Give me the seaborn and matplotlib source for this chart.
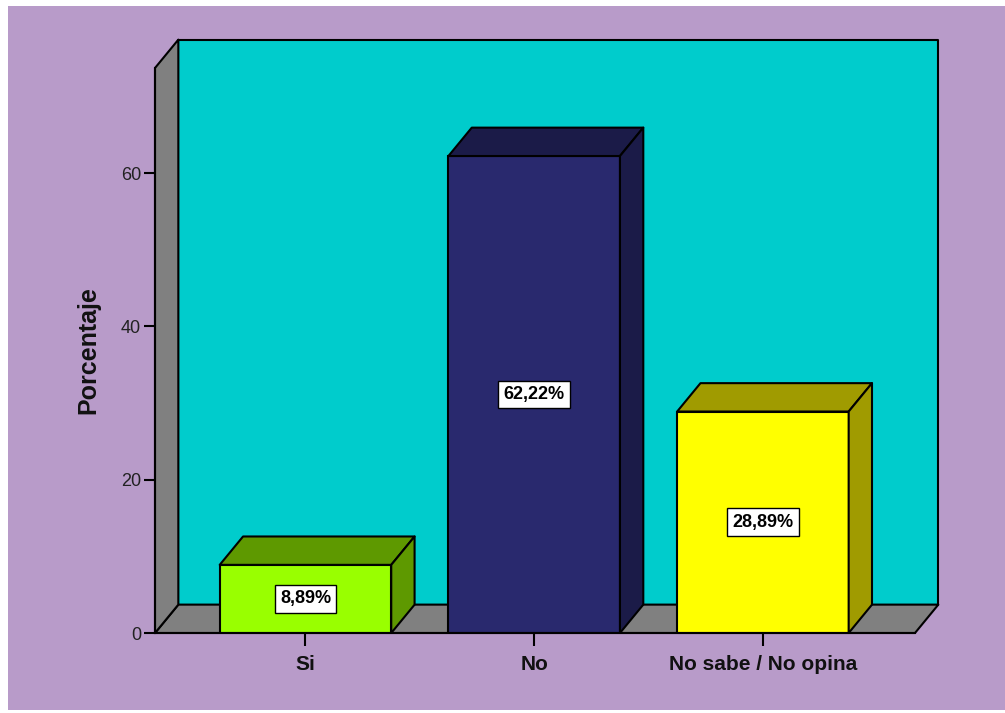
import matplotlib
matplotlib.use("Agg")
import matplotlib.pyplot as plt
from matplotlib.patches import Polygon, Rectangle
import seaborn as sns
import pandas as pd

categories = ["Si", "No", "No sabe / No opina"]
values = [8.89, 62.22, 28.89]
labels = ["8,89%", "62,22%", "28,89%"]
front_colors = ["#99FF00", "#29296E", "#FFFF00"]
dark_colors = ["#5E9900", "#1B1B48", "#A09B00"]
yticks = [0, 20, 40, 60]

sns.set_theme(style="white")
plt.rcParams["font.family"] = ["Liberation Sans", "DejaVu Sans"]

fig = plt.figure(figsize=(10.05, 7.13), dpi=100)
fig.patch.set_facecolor("white")
fig.add_artist(Rectangle((8 / 1005, 3 / 713), 1 - 8 / 1005, 704 / 713,
                         transform=fig.transFigure, facecolor="#B89BC9",
                         edgecolor="none", zorder=-10))

ax = fig.add_axes([155 / 1005, 80 / 713, 760 / 1005, 565 / 713])
ax.set_facecolor("none")

df = pd.DataFrame({"cat": categories, "val": values})
sns.barplot(data=df, x="cat", y="val", hue="cat", palette=front_colors,
            saturation=1, width=0.75, edgecolor="black", linewidth=1.5,
            legend=False, ax=ax, zorder=5)

x0, x1 = -0.658, 2.665
ymax = 73.7
dx, dy = 0.102, 3.7
ax.set_xlim(x0, x1)
ax.set_ylim(0, ymax)

gray = "#808080"
ec = dict(edgecolor="black", linewidth=1.5, clip_on=False, joinstyle="round")
# back wall
ax.add_patch(Polygon([(x0 + dx, dy), (x1 + dx, dy), (x1 + dx, ymax + dy), (x0 + dx, ymax + dy)],
                     closed=True, facecolor="#00CCCC", zorder=1, **ec))
# floor
ax.add_patch(Polygon([(x0, 0), (x1, 0), (x1 + dx, dy), (x0 + dx, dy)],
                     closed=True, facecolor=gray, zorder=2, **ec))
# left wall
ax.add_patch(Polygon([(x0, 0), (x0 + dx, dy), (x0 + dx, ymax + dy), (x0, ymax)],
                     closed=True, facecolor=gray, zorder=2, **ec))

bars = [p for p in ax.patches if isinstance(p, Rectangle)]
for bar, dc, lab in zip(bars, dark_colors, labels):
    l = bar.get_x()
    w = bar.get_width()
    h = bar.get_height()
    r = l + w
    ax.add_patch(Polygon([(l, h), (r, h), (r + dx, h + dy), (l + dx, h + dy)],
                         closed=True, facecolor=dc, zorder=5, **ec))
    ax.add_patch(Polygon([(r, 0), (r + dx, dy), (r + dx, h + dy), (r, h)],
                         closed=True, facecolor=dc, zorder=5, **ec))
    ax.text(l + w / 2, h / 2, lab, ha="center", va="center", fontsize=13,
            fontweight="bold", color="black", zorder=10,
            bbox=dict(boxstyle="square,pad=0.3", facecolor="white",
                      edgecolor="black", linewidth=1))

for s in ["top", "right"]:
    ax.spines[s].set_visible(False)
for s in ["left", "bottom"]:
    ax.spines[s].set_color("black")
    ax.spines[s].set_linewidth(1.5)
    ax.spines[s].set_zorder(6)

ax.set_yticks(yticks)
ax.tick_params(axis="y", direction="out", length=8, width=1.5, color="black",
               labelsize=13, pad=2, left=True, labelcolor="#222222")
ax.tick_params(axis="x", direction="out", length=9, width=1.5, color="black",
               labelsize=15, pad=7, bottom=True)
for t in ax.get_xticklabels():
    t.set_fontweight("bold")
    t.set_color("#111111")
ax.set_xlabel("")
ax.set_ylabel("Porcentaje", fontsize=18, fontweight="bold", color="#111111")
ax.yaxis.set_label_coords(-0.072, 0.5)

fig.savefig("out.png", dpi=100)
